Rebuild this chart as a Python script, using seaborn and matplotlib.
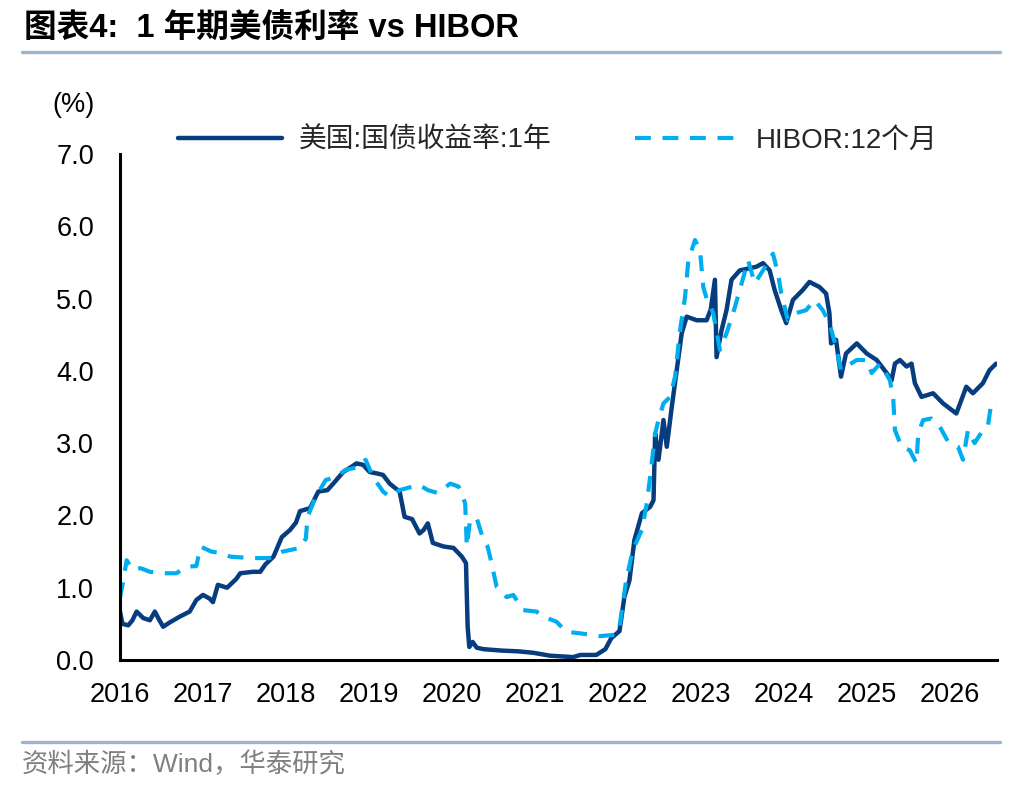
import matplotlib
matplotlib.use("Agg")
import matplotlib.pyplot as plt
from matplotlib.lines import Line2D
import seaborn as sns
import pandas as pd

# ---------------- data ----------------
ust_year = [2016.00, 2016.03, 2016.10, 2016.15, 2016.20, 2016.28, 2016.36, 2016.42, 2016.47, 2016.52,
            2016.60, 2016.72, 2016.84, 2016.92, 2017.00, 2017.08, 2017.12, 2017.18, 2017.29, 2017.40,
            2017.45, 2017.60, 2017.69, 2017.75, 2017.85, 2017.95, 2018.05, 2018.12, 2018.17, 2018.29,
            2018.39, 2018.50, 2018.57, 2018.69, 2018.80, 2018.85, 2018.93, 2019.01, 2019.10, 2019.17,
            2019.25, 2019.37, 2019.43, 2019.52, 2019.61, 2019.66, 2019.71, 2019.77, 2019.90, 2020.02,
            2020.12, 2020.17, 2020.19, 2020.21, 2020.25, 2020.30, 2020.38, 2020.60, 2020.80, 2020.98,
            2021.18, 2021.46, 2021.55, 2021.74, 2021.85, 2021.92, 2022.02, 2022.08, 2022.14, 2022.20,
            2022.29, 2022.39, 2022.43, 2022.45, 2022.49, 2022.55, 2022.59, 2022.65, 2022.71, 2022.77,
            2022.83, 2022.95, 2023.07, 2023.12, 2023.17, 2023.19, 2023.25, 2023.31, 2023.37, 2023.47,
            2023.67, 2023.75, 2023.83, 2023.89, 2023.97, 2024.03, 2024.11, 2024.23, 2024.31, 2024.43,
            2024.51, 2024.55, 2024.57, 2024.63, 2024.69, 2024.75, 2024.88, 2025.00, 2025.12, 2025.24,
            2025.30, 2025.34, 2025.40, 2025.48, 2025.54, 2025.58, 2025.66, 2025.80, 2025.92, 2026.08,
            2026.20, 2026.28, 2026.40, 2026.48, 2026.56]
ust_value = [0.67, 0.50, 0.48, 0.55, 0.67, 0.58, 0.55, 0.67, 0.56, 0.46,
             0.52, 0.60, 0.67, 0.83, 0.90, 0.85, 0.80, 1.04, 1.00, 1.12,
             1.20, 1.22, 1.22, 1.32, 1.43, 1.70, 1.80, 1.90, 2.06, 2.10,
             2.33, 2.35, 2.44, 2.60, 2.68, 2.72, 2.70, 2.60, 2.58, 2.56,
             2.44, 2.33, 1.98, 1.95, 1.75, 1.80, 1.89, 1.62, 1.57, 1.55,
             1.43, 1.34, 0.46, 0.18, 0.25, 0.17, 0.15, 0.13, 0.12, 0.10,
             0.06, 0.04, 0.07, 0.07, 0.15, 0.30, 0.40, 0.88, 1.10, 1.66,
             2.03, 2.12, 2.21, 3.13, 2.77, 3.32, 2.95, 3.50, 4.01, 4.52,
             4.75, 4.70, 4.70, 4.85, 5.26, 4.19, 4.56, 4.84, 5.26, 5.39,
             5.44, 5.49, 5.39, 5.12, 4.84, 4.66, 4.98, 5.12, 5.23, 5.16,
             5.07, 4.80, 4.38, 4.43, 3.92, 4.24, 4.38, 4.24, 4.15, 3.97,
             3.87, 4.10, 4.15, 4.06, 4.10, 3.83, 3.64, 3.69, 3.55, 3.41,
             3.78, 3.69, 3.83, 4.01, 4.10]

hibor_year = [2016.00, 2016.04, 2016.08, 2016.15, 2016.25, 2016.36, 2016.50, 2016.68, 2016.80, 2016.92,
              2016.97, 2017.10, 2017.22, 2017.33, 2017.57, 2017.80, 2017.96, 2018.17, 2018.24, 2018.26,
              2018.36, 2018.48, 2018.60, 2018.72, 2018.88, 2018.96, 2019.05, 2019.17, 2019.25, 2019.37,
              2019.53, 2019.61, 2019.71, 2019.83, 2019.98, 2020.08, 2020.16, 2020.18, 2020.22, 2020.30,
              2020.38, 2020.43, 2020.47, 2020.54, 2020.66, 2020.74, 2020.86, 2021.02, 2021.10, 2021.26,
              2021.38, 2021.54, 2021.78, 2021.98, 2022.02, 2022.10, 2022.18, 2022.29, 2022.35, 2022.39,
              2022.45, 2022.49, 2022.55, 2022.63, 2022.69, 2022.75, 2022.81, 2022.85, 2022.93, 2022.99,
              2023.03, 2023.07, 2023.15, 2023.23, 2023.31, 2023.39, 2023.47, 2023.57, 2023.65, 2023.75,
              2023.87, 2023.93, 2023.97, 2024.05, 2024.15, 2024.27, 2024.37, 2024.47, 2024.55, 2024.63,
              2024.69, 2024.75, 2024.88, 2025.00, 2025.06, 2025.16, 2025.28, 2025.32, 2025.34, 2025.42,
              2025.52, 2025.60, 2025.62, 2025.68, 2025.78, 2025.88, 2025.98, 2026.10, 2026.16, 2026.22,
              2026.30, 2026.40, 2026.46, 2026.50, 2026.56]
hibor_value = [0.86, 1.10, 1.38, 1.25, 1.27, 1.22, 1.20, 1.20, 1.29, 1.30,
               1.57, 1.50, 1.48, 1.43, 1.41, 1.41, 1.50, 1.55, 1.68, 1.98,
               2.26, 2.49, 2.53, 2.63, 2.67, 2.77, 2.53, 2.33, 2.26, 2.35,
               2.40, 2.42, 2.35, 2.31, 2.44, 2.40, 2.17, 1.57, 1.94, 1.96,
               1.66, 1.57, 1.38, 1.01, 0.87, 0.90, 0.69, 0.67, 0.60, 0.53,
               0.39, 0.37, 0.33, 0.35, 0.46, 1.10, 1.52, 1.80, 2.17, 2.54,
               3.13, 3.32, 3.55, 3.64, 3.92, 4.56, 5.02, 5.53, 5.81, 5.67,
               5.16, 5.00, 4.80, 4.29, 4.52, 4.80, 5.12, 5.53, 5.21, 5.39,
               5.62, 5.35, 5.07, 4.70, 4.80, 4.84, 4.98, 4.84, 4.66, 4.33,
               4.01, 4.06, 4.15, 4.15, 3.97, 4.10, 3.87, 3.60, 3.18, 2.95,
               2.90, 2.72, 3.13, 3.32, 3.34, 3.23, 3.02, 2.95, 2.77, 3.18,
               3.00, 3.18, 3.23, 3.55, 3.50]

series_labels = ["美国:国债收益率:1年", "HIBOR:12个月"]
year_ticks = list(range(2016, 2027))
y_ticks = [0, 1, 2, 3, 4, 5, 6, 7]
title_text = "图表4:  1 年期美债利率 vs HIBOR"
source_text = "资料来源：Wind，华泰研究"
unit_text = "(%)"

# ---------------- style ----------------
sns.set_style("white")
plt.rcParams['font.family'] = ['Liberation Sans', 'Noto Sans CJK SC', 'DejaVu Sans']

NAVY = "#073C7E"
LIGHT = "#00AEEF"
RULE = "#9DB3CB"

W, H = 1036, 792
fig = plt.figure(figsize=(W / 100, H / 100), dpi=100)
ax = fig.add_axes([120 / W, 132 / H, 877 / W, 506 / H])

df_ust = pd.DataFrame({"year": ust_year, "value": ust_value})
df_hib = pd.DataFrame({"year": hibor_year, "value": hibor_value})

sns.lineplot(data=df_ust, x="year", y="value", ax=ax, color=NAVY, lw=3.2,
             estimator=None, sort=False)
sns.lineplot(data=df_hib, x="year", y="value", ax=ax, color=LIGHT, lw=3.0,
             estimator=None, sort=False, linestyle=(0, (3.8, 2.8)))

ax.set_xlim(2016, 2026.57)
ax.set_ylim(0, 7)
ax.set_xticks(year_ticks)
ax.set_xticklabels([str(y) for y in year_ticks])
ax.set_yticks(y_ticks)
ax.set_yticklabels([f"{v:.1f}" for v in y_ticks])
ax.set_xlabel("")
ax.set_ylabel("")

for s in ["top", "right"]:
    ax.spines[s].set_visible(False)
for s in ["left", "bottom"]:
    ax.spines[s].set_color("black")
    ax.spines[s].set_linewidth(2.2)

ax.tick_params(axis="both", which="major", direction="out", length=5.8, width=2.2,
               color="black", labelsize=19.5, labelcolor="black")
ax.tick_params(axis="y", pad=13)
ax.tick_params(axis="x", pad=10)
ax.grid(False)

# legend
handles = [Line2D([0], [0], color=NAVY, lw=3.2),
           Line2D([0], [0], color=LIGHT, lw=3.0, linestyle=(0, (3.8, 2.8)))]
leg = fig.legend(handles, series_labels, loc="center left",
                 bbox_to_anchor=(178 / W, 1 - 141 / H), bbox_transform=fig.transFigure,
                 ncol=2, frameon=False, fontsize=20, handlelength=3.75,
                 handletextpad=0.6, columnspacing=3.0, borderpad=0, borderaxespad=0)

# unit label
fig.text(52 / W, 1 - 105 / H, unit_text, fontsize=19.5, va="center", ha="left", color="black")

# title & rules
fig.text(24 / W, 1 - 29 / H, title_text, fontsize=23.5, fontweight="bold",
         va="center", ha="left", color="black")
fig.add_artist(Line2D([22 / W, 1000 / W], [1 - 52 / H, 1 - 52 / H],
                      transform=fig.transFigure, color=RULE, lw=2.4))
fig.add_artist(Line2D([22 / W, 1000 / W], [1 - 742 / H, 1 - 742 / H],
                      transform=fig.transFigure, color=RULE, lw=2.4))
fig.text(22 / W, 1 - 764 / H, source_text, fontsize=19, va="center", ha="left",
         color="#808080")

fig.savefig("out.png", dpi=100)
